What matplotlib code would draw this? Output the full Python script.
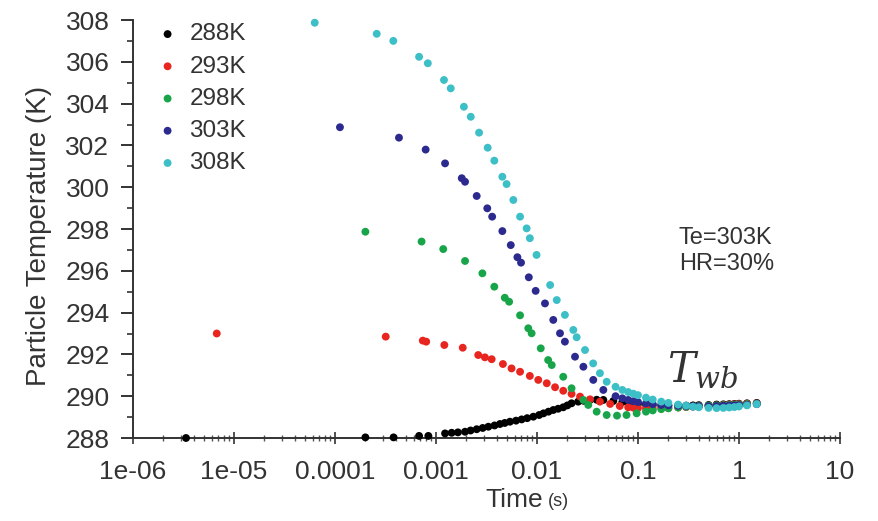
import matplotlib
matplotlib.use("Agg")
import matplotlib.pyplot as plt
from matplotlib.ticker import MultipleLocator, LogLocator, NullFormatter, FixedLocator, FixedFormatter

# Data (time in s, particle temperature in K)
t_288 = [3.35e-6, 2.0e-4, 3.8e-4, 6.8e-4, 8.4e-4, 1.23e-3, 1.43e-3, 1.65e-3, 1.94e-3, 2.2e-3,
         2.53e-3, 2.9e-3, 3.3e-3, 3.8e-3, 4.3e-3, 4.8e-3, 5.4e-3, 6.2e-3, 7.05e-3, 8.0e-3,
         9.2e-3, 1.05e-2, 1.16e-2, 1.3e-2, 1.45e-2, 1.62e-2, 1.82e-2, 2.0e-2, 2.2e-2, 2.56e-2,
         2.9e-2, 3.35e-2, 3.9e-2, 4.54e-2, 5.7e-2, 0.07, 0.08, 0.09, 0.1, 0.12, 0.14, 0.17, 0.2,
         0.25, 0.3, 0.35, 0.4, 0.5, 0.6, 0.7, 0.8, 0.9, 1.0, 1.2, 1.5]
T_288 = [288.0, 288.03, 288.03, 288.1, 288.1, 288.22, 288.25, 288.27, 288.3, 288.36,
         288.42, 288.48, 288.54, 288.6, 288.67, 288.72, 288.78, 288.83, 288.89, 288.95,
         289.02, 289.1, 289.18, 289.26, 289.34, 289.4, 289.47, 289.56, 289.66, 289.74,
         289.78, 289.82, 289.83, 289.82, 289.77, 289.72, 289.68, 289.65, 289.63, 289.6, 289.58, 289.56, 289.55,
         289.55, 289.55, 289.56, 289.57, 289.58, 289.6, 289.61, 289.62, 289.63, 289.64, 289.66, 289.68]

t_293 = [6.75e-6, 3.18e-4, 7.4e-4, 8.0e-4, 1.21e-3, 1.84e-3, 2.62e-3, 3.05e-3, 3.56e-3, 4.6e-3,
         5.6e-3, 6.8e-3, 8.5e-3, 1.03e-2, 1.25e-2, 1.51e-2, 1.82e-2, 2.2e-2, 2.67e-2, 3.35e-2,
         4.2e-2, 5.3e-2, 6.6e-2, 0.08, 0.09, 0.1, 0.12, 0.14, 0.17, 0.2, 0.25, 0.3, 0.35, 0.4,
         0.5, 0.6, 0.7, 0.8, 0.9, 1.0, 1.2, 1.5]
T_293 = [293.0, 292.85, 292.66, 292.61, 292.45, 292.32, 291.97, 291.86, 291.77, 291.54,
         291.33, 291.17, 290.97, 290.78, 290.62, 290.43, 290.26, 290.11, 289.98, 289.85,
         289.74, 289.63, 289.53, 289.47, 289.45, 289.43, 289.42, 289.42, 289.43, 289.44, 289.46, 289.48, 289.5, 289.52,
         289.54, 289.56, 289.58, 289.6, 289.61, 289.62, 289.64, 289.65]

t_298 = [2.0e-4, 7.2e-4, 1.18e-3, 1.94e-3, 2.88e-3, 3.78e-3, 4.8e-3, 5.3e-3, 6.8e-3, 8.2e-3,
         8.85e-3, 1.09e-2, 1.29e-2, 1.4e-2, 1.82e-2, 2.2e-2, 2.88e-2, 3.22e-2, 3.9e-2, 4.9e-2,
         6.2e-2, 7.7e-2, 9.7e-2, 0.12, 0.14, 0.17, 0.2, 0.25, 0.3, 0.35, 0.4, 0.5, 0.6, 0.7,
         0.8, 0.9, 1.0, 1.2, 1.5]
T_298 = [297.87, 297.4, 297.04, 296.47, 295.88, 295.24, 294.71, 294.52, 293.87, 293.25,
         293.01, 292.29, 291.73, 291.49, 290.93, 290.38, 289.82, 289.58, 289.26, 289.1,
         289.07, 289.1, 289.18, 289.26, 289.32, 289.38, 289.42, 289.46, 289.49, 289.51, 289.53, 289.55, 289.56, 289.57,
         289.58, 289.59, 289.6, 289.62, 289.64]

t_303 = [1.12e-4, 4.3e-4, 7.9e-4, 1.23e-3, 1.8e-3, 1.94e-3, 2.53e-3, 3.22e-3, 3.6e-3, 4.54e-3,
         5.5e-3, 6.4e-3, 6.95e-3, 8.3e-3, 9.7e-3, 1.2e-2, 1.45e-2, 1.69e-2, 1.89e-2, 2.38e-2,
         2.88e-2, 3.61e-2, 4.54e-2, 0.06, 0.07, 0.08, 0.09, 0.1, 0.12, 0.14, 0.17, 0.2, 0.25,
         0.3, 0.35, 0.4, 0.5, 0.6, 0.7, 0.8, 0.9, 1.0, 1.2, 1.5]
T_303 = [302.87, 302.37, 301.8, 301.14, 300.43, 300.26, 299.58, 298.99, 298.59, 297.9,
         297.23, 296.65, 296.39, 295.69, 295.04, 294.44, 293.65, 293.01, 292.61, 291.89,
         291.41, 290.78, 290.3, 290.0, 289.9, 289.82, 289.76, 289.72, 289.66, 289.62, 289.58, 289.56, 289.54,
         289.53, 289.52, 289.52, 289.52, 289.53, 289.54, 289.55, 289.56, 289.57, 289.59, 289.62]

t_308 = [6.3e-5, 2.59e-4, 3.78e-4, 6.8e-4, 8.3e-4, 1.2e-3, 1.4e-3, 1.89e-3, 2.21e-3, 2.67e-3,
         3.25e-3, 3.78e-3, 4.54e-3, 5.0e-3, 5.83e-3, 6.8e-3, 7.9e-3, 8.5e-3, 9.9e-3, 1.35e-2,
         1.57e-2, 1.89e-2, 2.29e-2, 2.47e-2, 2.99e-2, 3.6e-2, 4.2e-2, 4.9e-2, 0.06, 0.07, 0.08,
         0.09, 0.1, 0.12, 0.14, 0.17, 0.2, 0.25, 0.3, 0.35, 0.4, 0.5, 0.6, 0.7, 0.8, 0.9, 1.0,
         1.2, 1.5]
T_308 = [307.87, 307.34, 307.0, 306.24, 305.93, 305.13, 304.73, 303.85, 303.37, 302.61,
         301.89, 301.27, 300.5, 300.15, 299.39, 298.59, 298.03, 297.56, 296.76, 295.32,
         294.6, 293.89, 293.17, 292.82, 292.21, 291.57, 291.1, 290.69, 290.45, 290.3, 290.2,
         290.12, 290.05, 289.93, 289.84, 289.74, 289.68, 289.6, 289.55, 289.5, 289.47, 289.44, 289.43, 289.44, 289.46, 289.48, 289.51,
         289.56, 289.62]

series = [
    ('288K', t_288, T_288, '#000000'),
    ('293K', t_293, T_293, '#e8261f'),
    ('298K', t_298, T_298, '#18a54a'),
    ('303K', t_303, T_303, '#2c2a8e'),
    ('308K', t_308, T_308, '#3cbfc6'),
]

x_ticks = [1e-6, 1e-5, 1e-4, 1e-3, 1e-2, 1e-1, 1, 10]
x_tick_labels = ['1e-06', '1e-05', '0.0001', '0.001', '0.01', '0.1', '1', '10']

plt.rcParams['font.family'] = ['Liberation Sans', 'DejaVu Sans']
plt.rcParams['mathtext.fontset'] = 'dejavuserif'

fig = plt.figure(figsize=(8.79, 5.21), dpi=100)
ax = fig.add_axes([0.1513, 0.1593, 0.8043, 0.8023])

for name, t, T, color in series:
    ax.scatter(t, T, s=32, color=color, label=name, edgecolors='none', clip_on=False, zorder=3)

ax.set_xscale('log')
ax.set_xlim(1e-6, 10)
ax.set_ylim(288, 308)
ax.xaxis.set_major_locator(FixedLocator(x_ticks))
ax.xaxis.set_major_formatter(FixedFormatter(x_tick_labels))
ax.xaxis.set_minor_locator(LogLocator(base=10, subs=range(2, 10), numticks=20))
ax.xaxis.set_minor_formatter(NullFormatter())
ax.yaxis.set_major_locator(MultipleLocator(2))
ax.yaxis.set_minor_locator(MultipleLocator(1))

for side in ['top', 'right']:
    ax.spines[side].set_visible(False)
for side in ['left', 'bottom']:
    ax.spines[side].set_color('#333333')
    ax.spines[side].set_linewidth(1.4)

ax.tick_params(axis='y', which='major', direction='out', length=9, width=1.4, color='#333333',
               labelsize=19, labelcolor='#333333', pad=8)
ax.tick_params(axis='y', which='minor', direction='out', length=4, width=1.2, color='#333333')
ax.tick_params(axis='x', which='major', direction='inout', length=8, width=1.2, color='#333333',
               labelsize=19, labelcolor='#333333', pad=12)
ax.tick_params(axis='x', which='minor', direction='inout', length=4, width=1.0, color='#555555')

ax.set_ylabel('Particle Temperature (K)', fontsize=20, color='#333333')
ax.yaxis.set_label_coords(-0.115, 0.483)

# x label: "Time" with a smaller "(s)"
ax.text(0.58, -0.148, 'Time', transform=ax.transAxes, fontsize=19, color='#333333',
        ha='right', va='center')
ax.text(0.587, -0.152, '(s)', transform=ax.transAxes, fontsize=13, color='#333333',
        ha='left', va='center')

leg = ax.legend(loc='upper left', bbox_to_anchor=(0.018, 1.015), frameon=False, fontsize=17.5,
                handlelength=1.0, handletextpad=0.4, labelspacing=0.42, borderaxespad=0)
for txt in leg.get_texts():
    txt.set_color('#333333')

ax.text(0.772, 0.447, 'Te=303K\nHR=30%', transform=ax.transAxes, fontsize=17,
        color='#333333', linespacing=1.2, va='center', ha='left')
ax.text(0.755, 0.163, r'$T_{wb}$', transform=ax.transAxes, fontsize=30,
        color='#333333', ha='left', va='center')

fig.savefig('out.png', dpi=100)
